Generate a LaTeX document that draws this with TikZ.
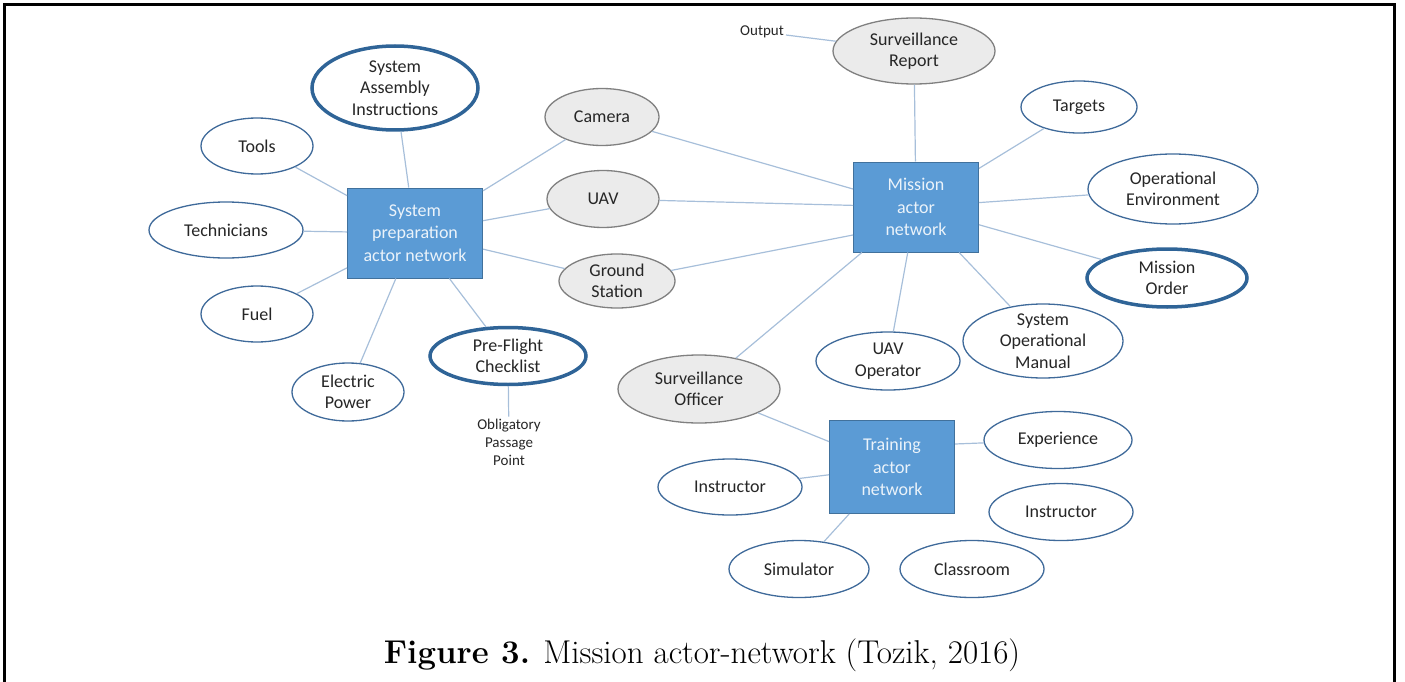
\documentclass[tikz,border=0pt]{standalone}
\usepackage{fontspec}
\usepackage{xcolor}
\usepackage{tikz}
\usetikzlibrary{shapes.geometric, positioning}
\newfontfamily\calibri{Carlito}
\definecolor{boxblue}{RGB}{91, 155, 213}
\definecolor{boxedge}{RGB}{65, 113, 156}
\definecolor{ringblue}{RGB}{63, 106, 154}
\definecolor{keyblue}{RGB}{47, 100, 151}
\definecolor{linkblue}{RGB}{167, 191, 218}
\definecolor{txt}{RGB}{38, 38, 38}
\tikzset{
    hubnode/.style = {draw=boxedge, line width=1pt, fill=boxblue, rectangle, inner sep=0em,
      node distance=0em, minimum width=125, minimum height=90, text=white!88!boxblue,
      font=\calibri\fontsize{18}{22.5}\selectfont},
    ellipsenode/.style = {draw=ringblue, line width=1.3pt, fill=white, ellipse, inner sep=0em,
      node distance=0em, text=txt, font=\calibri\fontsize{18}{21.5}\selectfont},
    grayellipsenode/.style = {ellipsenode, draw=gray, fill=black!8},
    keyellipsenode/.style = {ellipsenode, draw=keyblue, line width=3.5pt},
    smalltextnode/.style = {draw=none, fill=none, rectangle, inner sep=0.2em, node distance=0em,
      text=txt, font=\calibri\fontsize{15}{18}\selectfont},
    link/.style = {linkblue, line width=1.2pt},
    every text node part/.style={align=center}
}

\begin{document}
\begin{tikzpicture}[x=1pt, y=-1pt]
\useasboundingbox (0,0) rectangle (1405,682);
\draw [line width=3pt] (4.5,690) -- (4.5,4.5) -- (1394,4.5) -- (1394,690);

% system preparation
\node [hubnode, name=sysprep, minimum width=135] at (415,233) {System\\preparation\\actor network};
\node [keyellipsenode, name=sysasm, above of = sysprep, xshift=-20, yshift=145, minimum width=166, minimum height=84, inner ysep=-5] {System\\Assembly\\Instructions};
\node [ellipsenode, name=tools, left of = sysprep, xshift=-158, yshift=87, minimum width=112, minimum height=56] {Tools};
\node [ellipsenode, name=techs, left of = sysprep, xshift=-189, yshift=3, minimum width=154, minimum height=56] {Technicians};
\node [ellipsenode, name=fuel, left of = sysprep, xshift=-158, yshift=-81, minimum width=112, minimum height=56] {Fuel};
\node [ellipsenode, name=elec, below of = sysprep, xshift=-67, yshift=-159, minimum width=112, minimum height=58] {Electric\\Power};
\node [keyellipsenode, name=preflight, below of = sysprep, xshift=93, yshift=-123, minimum width=156, minimum height=57] {Pre-Flight\\Checklist};
\node [smalltextnode, name=opp, below of = preflight, xshift=1, yshift=-86] {Obligatory\\Passage\\Point};

% shared actors
\node [grayellipsenode, name=camera, right of = sysprep, xshift=187, yshift=116, minimum width=114, minimum height=57] {Camera};
\node [grayellipsenode, name=uav, right of = sysprep, xshift=188, yshift=34, minimum width=112, minimum height=57] {UAV};
\node [grayellipsenode, name=ground, right of = sysprep, xshift=202, yshift=-48, minimum width=116, minimum height=54] {Ground\\Station};

% mission
\node [hubnode, name=mission] at (916,207) {Mission\\actor\\network};
\node [grayellipsenode, name=survrep, above of = mission, xshift=-2, yshift=156, minimum width=162, minimum height=66] {Surveillance\\Report};
\node [smalltextnode, name=output, left of = survrep, xshift=-152, yshift=19] {Output};
\node [ellipsenode, name=targets, right of = mission, xshift=163, yshift=100, minimum width=116, minimum height=52] {Targets};
\node [ellipsenode, name=openv, right of = mission, xshift=257, yshift=18, minimum width=170, minimum height=70] {Operational\\Environment};
\node [keyellipsenode, name=order, right of = mission, xshift=251, yshift=-71, minimum width=160, minimum height=58] {Mission\\Order};
\node [ellipsenode, name=manual, below of = mission, xshift=127, yshift=-134, minimum width=160, minimum height=74, inner ysep=-7] {System\\Operational\\Manual};
\node [ellipsenode, name=uavop, below of = mission, xshift=-28, yshift=-154, minimum width=144, minimum height=58] {UAV\\Operator};
\node [grayellipsenode, name=survoff, below of = mission, xshift=-217, yshift=-182, minimum width=162, minimum height=68] {Surveillance\\Officer};

% training
\node [hubnode, name=training, minimum height=93] at (892,467) {Training\\actor\\network};
\node [ellipsenode, name=experience, right of = training, xshift=166, yshift=27, minimum width=148, minimum height=57] {Experience};
\node [ellipsenode, name=instrA, left of = training, xshift=-162, yshift=-20, minimum width=144, minimum height=56] {Instructor};
\node [ellipsenode, name=instrB, right of = training, xshift=169, yshift=-45, minimum width=144, minimum height=57] {Instructor};
\node [ellipsenode, name=simulator, below of = training, xshift=-93, yshift=-102, minimum width=140, minimum height=57] {Simulator};
\node [ellipsenode, name=classroom, below of = training, xshift=80, yshift=-102, minimum width=144, minimum height=57] {Classroom};

\draw [link] (sysprep) -- (sysasm);
\draw [link] (sysprep) -- (tools);
\draw [link] (sysprep) -- (techs);
\draw [link] (sysprep) -- (fuel);
\draw [link] (sysprep) -- (elec);
\draw [link] (sysprep) -- (preflight);
\draw [link] (preflight) -- (opp);
\draw [link] (sysprep) -- (camera);
\draw [link] (sysprep) -- (uav);
\draw [link] (sysprep) -- (ground);

\draw [link] (camera) -- (mission);
\draw [link] (uav) -- (mission);
\draw [link] (ground) -- ([yshift=-28]mission.west);
\draw [link] (mission) -- (survrep);
\draw [link] (output) -- (survrep);
\draw [link] (mission) -- (targets);
\draw [link] (mission) -- (openv);
\draw [link] (mission) -- (order);
\draw [link] (mission) -- (manual);
\draw [link] (mission) -- (uavop);
\draw [link] (mission) -- (survoff);

\draw [link] (survoff) -- (training);
\draw [link] ([yshift=23]training.east) -- (experience);
\draw [link] (training) -- (instrA);
\draw [link] (training) -- (simulator);

\node [name=caption, anchor=base, font=\fontsize{33}{38}\selectfont] at (702,663) {\textbf{Figure 3.} Mission actor-network (Tozik, 2016)};
\end{tikzpicture}
\end{document}
